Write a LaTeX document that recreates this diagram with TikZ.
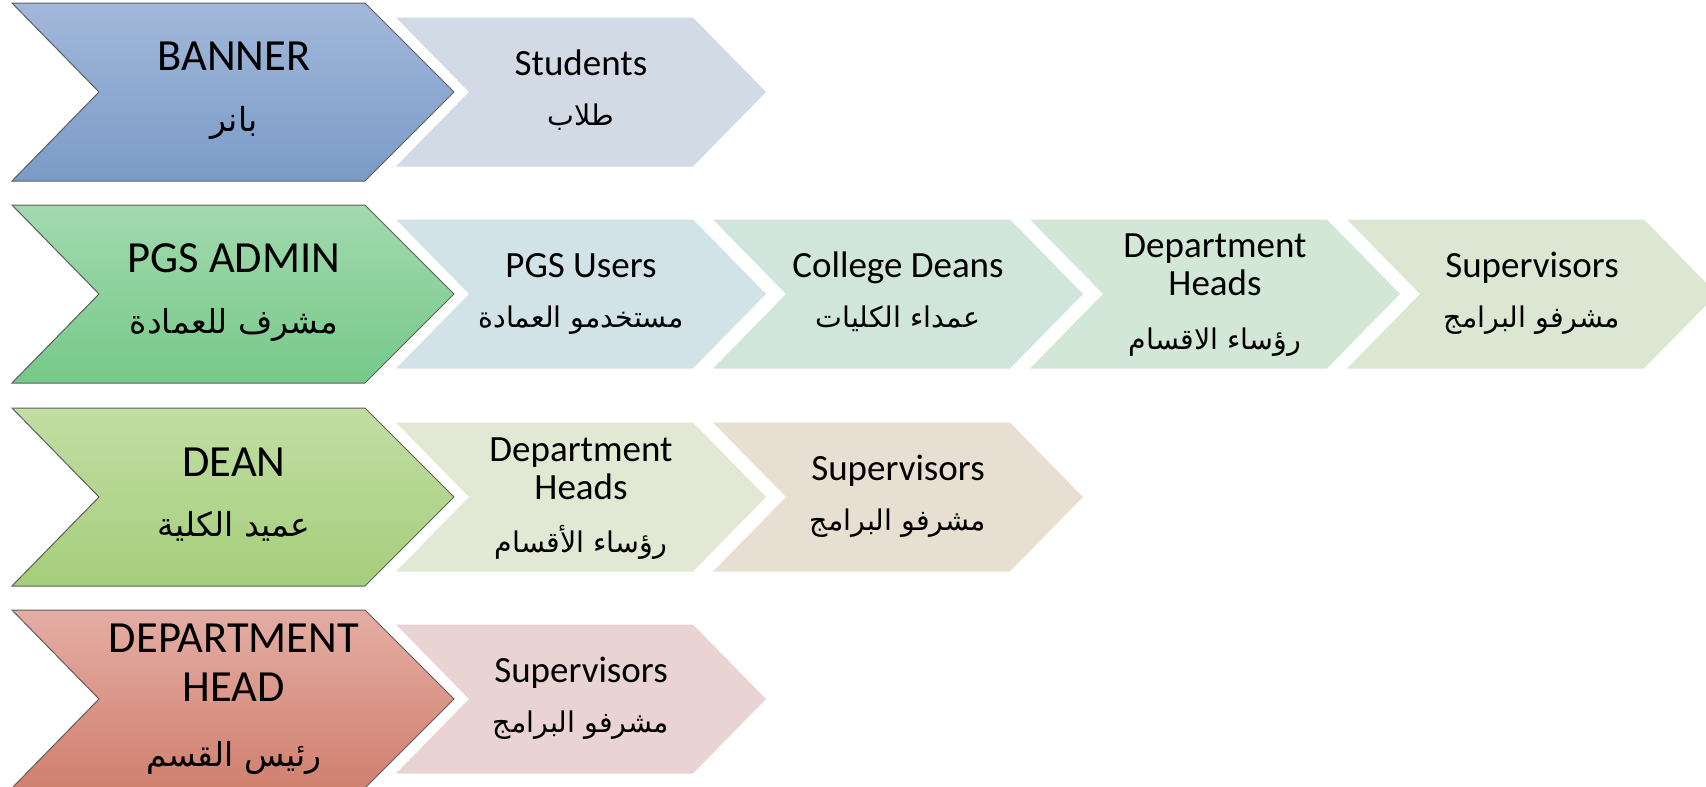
\documentclass[tikz,border=0pt]{standalone}
\usepackage{fontspec}
\setmainfont{Carlito}
\newfontfamily\arabicfont[Script=Arabic]{DejaVu Sans}
\TeXXeTstate=1
\definecolor{bordergrey}{HTML}{5E5E5E}
\definecolor{bannerTop}{HTML}{A2B8DA}
\definecolor{bannerBot}{HTML}{7A9BC7}
\definecolor{adminTop}{HTML}{A2D9AE}
\definecolor{adminBot}{HTML}{76C989}
\definecolor{deanTop}{HTML}{C1DEA3}
\definecolor{deanBot}{HTML}{A5CE7B}
\definecolor{headTop}{HTML}{E4ADA4}
\definecolor{headBot}{HTML}{D1806F}
\definecolor{cStudents}{HTML}{D2DAE6}
\definecolor{cUsers}{HTML}{D1E3E6}
\definecolor{cDeans}{HTML}{D0E5DC}
\definecolor{cHeadsA}{HTML}{D2E7D6}
\definecolor{cSupA}{HTML}{DBE7D3}
\definecolor{cHeadsB}{HTML}{E3E8D4}
\definecolor{cSupB}{HTML}{E8DFD3}
\definecolor{cSupC}{HTML}{E9D4D3}
\newcommand\mainchev[3]{%
  \path[mainshape, top color=#2, bottom color=#3]
    (12,#1) -- ++(353,0) -- ++(89,89) -- ++(-89,89) -- ++(-353,0) -- ++(87,-89) -- cycle;}
\newcommand\subchev[3]{%
  \fill[#3] (#1,#2) -- ++(297,0) -- ++(73,74.5) -- ++(-73,74.5) -- ++(-297,0) -- ++(73,-74.5) -- cycle;}
\newcommand\ar[1]{\beginR #1\endR}
\begin{document}
\begin{tikzpicture}[x=1pt,y=-1pt,
  mainshape/.style={draw=bordergrey, line width=1pt, line join=miter},
  entxt/.style={font=\fontsize{37}{41}\selectfont, anchor=base, inner sep=0pt, text=black},
  bigtxt/.style={font=\fontsize{44.5}{49}\selectfont, anchor=base, inner sep=0pt, text=black},
  artxt/.style={font=\arabicfont\fontsize{28.5}{32}\selectfont, anchor=base, inner sep=0pt, text=black},
  bigartxt/.style={font=\arabicfont\fontsize{33}{37}\selectfont, anchor=base, inner sep=0pt, text=black}]
\useasboundingbox (0,0) rectangle (1706,787);
\clip (0,0) rectangle (1706,787);
\fill[white] (0,0) rectangle (1706,787);
% ---- row 1
\mainchev{3}{bannerTop}{bannerBot}
\subchev{396}{17.5}{cStudents}
\node[bigtxt] (banner) at (234,70) {BANNER};
\node[bigartxt] (bannerAr) at (234,131) {\ar{بانر}};
\node[entxt] (students) at (581,75) {Students};
\node[artxt] (studentsAr) at (581,125) {\ar{طلاب}};
% ---- row 2
\mainchev{205}{adminTop}{adminBot}
\subchev{396}{219.5}{cUsers}
\subchev{713}{219.5}{cDeans}
\subchev{1030}{219.5}{cHeadsA}
\subchev{1347}{219.5}{cSupA}
\node[bigtxt] (admin) at (234,272) {PGS ADMIN};
\node[bigartxt] (adminAr) at (234,333) {\ar{مشرف للعمادة}};
\node[entxt] (users) at (581,277) {PGS Users};
\node[artxt] (usersAr) at (581,327) {\ar{مستخدمو العمادة}};
\node[entxt] (deans) at (898,277) {College Deans};
\node[artxt] (deansAr) at (898,327) {\ar{عمداء الكليات}};
\node[entxt] (headsA1) at (1215,257) {Department};
\node[entxt] (headsA2) at (1215,295) {Heads};
\node[artxt] (headsAAr) at (1215,349) {\ar{رؤساء الاقسام}};
\node[entxt] (supA) at (1532,277) {Supervisors};
\node[artxt] (supAAr) at (1532,327) {\ar{مشرفو البرامج}};
% ---- row 3
\mainchev{408}{deanTop}{deanBot}
\subchev{396}{422.5}{cHeadsB}
\subchev{713}{422.5}{cSupB}
\node[bigtxt] (dean) at (234,476) {DEAN};
\node[bigartxt] (deanAr) at (234,536) {\ar{عميد الكلية}};
\node[entxt] (headsB1) at (581,461) {Department};
\node[entxt] (headsB2) at (581,499) {Heads};
\node[artxt] (headsBAr) at (581,552) {\ar{رؤساء الأقسام}};
\node[entxt] (supB) at (898,480) {Supervisors};
\node[artxt] (supBAr) at (898,530) {\ar{مشرفو البرامج}};
% ---- row 4
\mainchev{610}{headTop}{headBot}
\subchev{396}{624.5}{cSupC}
\node[bigtxt] (head1) at (234,652) {DEPARTMENT};
\node[bigtxt] (head2) at (234,701) {HEAD};
\node[bigartxt] (headAr) at (234,766) {\ar{رئيس القسم}};
\node[entxt] (supC) at (581,682) {Supervisors};
\node[artxt] (supCAr) at (581,732) {\ar{مشرفو البرامج}};
\end{tikzpicture}
\end{document}
